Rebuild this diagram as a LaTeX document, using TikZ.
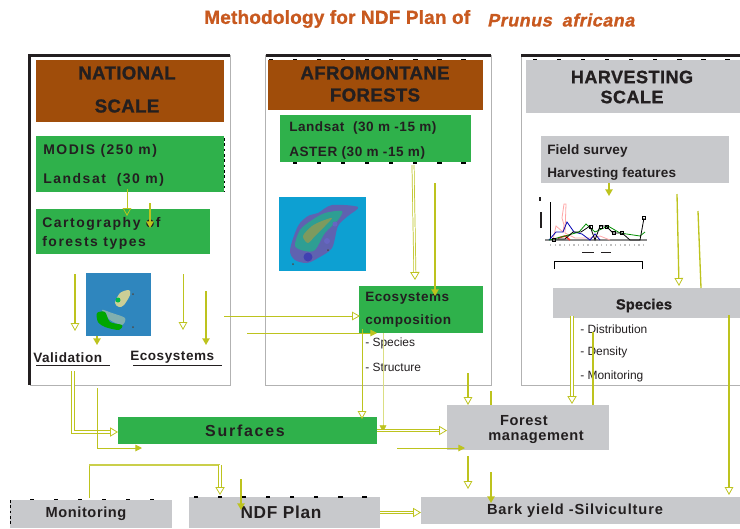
\documentclass[tikz,border=0pt]{standalone}
\usepackage{fontspec}
\setmainfont{Liberation Sans}
\newfontfamily\heavyfont[FakeBold=1.2]{Liberation Sans Bold}
\usetikzlibrary{arrows.meta}
\definecolor{brownbox}{HTML}{A04D0A}
\definecolor{greenbox}{HTML}{2FB14B}
\definecolor{greybox}{HTML}{C8C9CC}
\definecolor{olive}{HTML}{BDC31E}
\definecolor{titlecol}{HTML}{C8591F}
\definecolor{ink}{HTML}{231F20}
\definecolor{mapcyan}{HTML}{0DA0D2}
\definecolor{mapviolet}{HTML}{5F62B0}
\definecolor{mapteal}{HTML}{2E9E93}
\definecolor{mapcore}{HTML}{7D9A5E}
\definecolor{mapblue}{HTML}{2F86BE}
\newcommand{\heavy}[2]{\fontsize{#1}{#1}\selectfont\heavyfont\addfontfeature{LetterSpace=#2}}
\newcommand{\spaced}[2]{\fontsize{#1}{#1}\selectfont\bfseries\addfontfeature{LetterSpace=#2}}
\begin{document}
\begin{tikzpicture}[%
        x = 0.02646cm,
        y = -0.02646cm,
        box/.style = {inner sep=0pt, outer sep=0pt},
        heading/.style = {inner sep=0pt, text=ink, font=\heavy{14}{2}},
        label/.style = {inner sep=0pt, text=ink, yshift=-1.5pt, anchor=west, font=\spaced{10.2}{4}},
        widelabel/.style = {label, font=\spaced{10.5}{11}},
        tightlabel/.style = {label, font=\spaced{10.2}{1}},
        midlabel/.style = {inner sep=0pt, text=ink, yshift=-1.2pt, font=\spaced{11}{4}},
        plain/.style = {inner sep=0pt, text=ink, yshift=-0.6pt, anchor=west, font=\fontsize{9}{11}\selectfont},
        opentip/.style = {color=olive, line width=0.55pt, -{Triangle[open, length=6pt, width=6.5pt, line width=0.6pt]}},
        filltip/.style = {color=olive, line width=1pt, -{Triangle[length=5pt, width=5.5pt]}},
        nearfill/.style = {color=olive, line width=0.7pt, -{Triangle[length=5pt, width=5pt]}},
        notip/.style = {color=olive, line width=1pt},
        twintip/.style = {color=olive, line width=0.7pt, double, double distance=1.1pt, -{Triangle[open, length=6pt, width=7pt, line width=0.6pt]}},
        panelblack/.style = {color=ink, line width=2.4pt},
        panelgrey/.style = {color=black!30, line width=0.75pt},
        ticks/.style = {color=black, line width=1.2pt, dash pattern=on 3.2pt off 14.9pt},
        underline/.style = {color=ink, line width=0.6pt},
        series/.style = {line width=0.6pt}
    ]
      \useasboundingbox (0,0) rectangle (740,528);

      \coordinate (nat1) at (29.7,385); \coordinate (nat2) at (29.7,55.7); \coordinate (nat3) at (230,55.7); \coordinate (nat4) at (230,385);
      \coordinate (afr1) at (265.5,385); \coordinate (afr2) at (265.5,55.7); \coordinate (afr3) at (491,55.7); \coordinate (afr4) at (491,385);
      \coordinate (har1) at (740,385); \coordinate (har2) at (521,385); \coordinate (har3) at (521,55.7); \coordinate (har4) at (740,55.7);
      \draw [panelgrey] (nat2) -- (nat3) -- (nat4) -- (nat1);
      \draw [panelblack] (nat1) -- (nat2) -- (nat3);
      \draw [panelgrey] (afr1) -- (afr2) -- (afr3) -- (afr4) -- cycle;
      \draw [panelblack] (afr2) -- (afr3);
      \draw [panelgrey] (har1) -- (har2) -- (har3);
      \draw [panelblack] (har3) -- (har4);

      \node [heading, font=\heavy{14.3}{1}, text=titlecol, anchor=west] (title) at (204,19) {Methodology for NDF Plan of};
      \node [heading, font=\heavy{13.5}{3}\addfontfeature{FakeSlant=0.2}, text=titlecol, anchor=west] (latin) at (487,20) {Prunus\hspace{0.25em} africana};

      \node [box, fill=brownbox, minimum width=4.974cm, minimum height=1.640cm] (natbox) at (130,91) {};
      \node [box, fill=brownbox, minimum width=5.689cm, minimum height=1.323cm] (afrbox) at (375.5,85) {};
      \node [box, fill=greybox, minimum width=5.662cm, minimum height=1.402cm] (harbox) at (633,86.5) {};
      \node [box, fill=greenbox, minimum width=4.974cm, minimum height=1.482cm] (modisbox) at (130,164) {};
      \node [box, fill=greenbox, minimum width=4.604cm, minimum height=1.191cm] (cartobox) at (123,231.5) {};
      \node [box, fill=greenbox, minimum width=5.054cm, minimum height=1.244cm] (satbox) at (375.5,138.5) {};
      \node [box, fill=greybox, minimum width=4.974cm, minimum height=1.244cm] (fieldbox) at (635,159.5) {};
      \node [box, fill=greenbox, minimum width=3.281cm, minimum height=1.244cm] (compbox) at (421,309.5) {};
      \node [box, fill=greybox, minimum width=4.948cm, minimum height=0.794cm] (specbox) at (646.5,303) {};
      \node [box, fill=greenbox, minimum width=6.853cm, minimum height=0.714cm] (surfbox) at (247.5,430.5) {};
      \node [box, fill=greybox, minimum width=4.286cm, minimum height=1.191cm] (forestbox) at (528,427.5) {};
      \node [box, fill=greybox, minimum width=4.286cm, minimum height=0.741cm] (monbox) at (91,514) {};
      \node [box, fill=greybox, minimum width=5.054cm, minimum height=0.820cm] (ndfbox) at (284.5,512.5) {};
      \node [box, fill=greybox, minimum width=8.441cm, minimum height=0.714cm] (barkbox) at (580.5,510.5) {};

      \draw [ticks] (269,59.3) -- (483,59.3);
      \draw [ticks] (293,162.8) -- (470,162.8);
      \draw [ticks] (533,59.3) -- (740,59.3);
      \draw [ticks] (194,497) -- (380,497);
      \draw [ticks] (30,499.5) -- (172,499.5);
      \draw [color=black, line width=0.7pt, dash pattern=on 2pt off 2pt] (224,138) -- (224,192);
      \draw [color=black, line width=0.7pt, dash pattern=on 2pt off 2pt] (10,500) -- (10,526);

      % right map
      \fill [color=mapcyan] (279,197) rectangle (366,271);
      \fill [color=mapviolet] plot [smooth cycle] coordinates {(290,250) (298,226) (308,216) (318,213) (332,205) (358,207) (348,216) (338,226) (332,248) (318,258) (307,263) (295,260)};
      \fill [color=mapteal] plot [smooth cycle] coordinates {(295,246) (300,230) (312,220) (325,213) (342,211) (338,220) (325,233) (315,250) (305,251)};
      \fill [color=mapcore] plot [smooth cycle] coordinates {(303,236) (312,226) (322,221) (332,218) (325,226) (315,236) (308,243)};
      \fill [color=blue!60!black!75] (308,257) circle [radius=4.5];
      \fill [color=blue!60!black!60] (327,241) circle [radius=3];
      \fill [color=blue!60!black!60] (335,224) circle [radius=2.5];
      \fill [color=black!70] (293,264) circle [radius=1];
      \fill [color=black!70] (328,250) circle [radius=1];
      % left map
      \fill [color=mapblue] (86,273) rectangle (151,336);
      \fill [color=black!25!teal!50] plot [smooth cycle] coordinates {(102,310) (112,313) (125,318) (122,325) (110,320)};
      \fill [color=green!65!black] plot [smooth cycle] coordinates {(97,313) (105,312) (110,322) (122,325) (119,330) (105,327) (98,322)};
      \fill [color=black!25!olive!45] plot [smooth cycle] coordinates {(115,303) (120,293) (129,290) (130,295) (124,305) (119,307)};
      \fill [color=green!45!teal] (118,300) circle [radius=2.5];
      \fill [color=black!70] (133,294) circle [radius=1];
      \fill [color=black!70] (133,327) circle [radius=1];

      % chart
      \draw [color=ink, line width=1pt] (540,197) -- (540,201) (541,212) -- (541,228);
      \draw [color=black, line width=0.4pt] (550,202) -- (550,240);
      \draw [color=black!45, line width=1.4pt] (545,240) -- (647,240);
      \draw [color=red!35, series] (553,240) -- (556,226) -- (563,232) -- (564,225) -- (562,218) -- (564,204) -- (566,204) -- (565,233) -- (575,238) -- (590,238) -- (600,236) -- (610,240);
      \draw [color=red!80, series, line width=1.2pt] (558,238) -- (565,236) -- (570,240);
      \draw [color=blue!70!black, series] (549,240) -- (556,232) -- (563,232) -- (567,222) -- (574,232) -- (582,234) -- (590,240) -- (595,234) -- (600,240);
      \draw [color=green!55!black, series] (549,240) -- (565,236) -- (579,232) -- (586,224) -- (595,232) -- (608,226) -- (620,233) -- (640,236) -- (645,232);
      \draw [color=black, series] (553,239) -- (565,239) -- (573,232) -- (581,232) -- (590,226) -- (595,240) -- (600,226) -- (606,226) -- (613,233) -- (622,233) -- (630,240) -- (640,240) -- (644,218);
      \draw [color=black, fill=none, line width=0.6pt] (552,238) rectangle (555,241) (589,225) rectangle (592,228) (599,225) rectangle (602,228) (605,225) rectangle (608,228) (612,231) rectangle (615,234) (620,231) rectangle (623,234) (642,216) rectangle (645,219);
      \draw [color=ink, line width=1.2pt] (582,252.5) -- (594,252.5) (601,252.5) -- (611,252.5);
      \draw [color=black, line width=0.5pt] (554,269) -- (554,261) -- (642,261) -- (642,269);
      \draw [color=black!25, line width=1.8pt, dash pattern=on 1pt off 2.5pt] (550,245) -- (645,245);

      \node [heading] (natlabel) at (127,73) {NATIONAL};
      \node [heading] (scalelabel) at (127,106) {SCALE};
      \node [heading] (afrlabel) at (375,73) {AFROMONTANE};
      \node [heading] (forlabel) at (375,95) {FORESTS};
      \node [heading, font=\heavy{13.5}{3}] (harlabel) at (632,77) {HARVESTING};
      \node [heading, font=\heavy{13.5}{3}] (harscale) at (632,97) {SCALE};
      \node [widelabel] (modis) at (43,149) {MODIS (250 m)};
      \node [widelabel] (landsat) at (43,178) {Landsat \ (30 m)};
      \node [widelabel] (carto) at (42,222) {Cartography of};
      \node [widelabel] (forests) at (42,241) {forests types};
      \node [label] (sat) at (289,126) {Landsat \ (30 m -15 m)};
      \node [label] (aster) at (289,151) {ASTER (30 m -15 m)};
      \node [tightlabel] (field) at (547,149) {Field survey};
      \node [tightlabel] (features) at (547,172) {Harvesting features};
      \node [label, yshift=1pt] (valid) at (33,357) {Validation};
      \node [label, yshift=1pt] (ecos) at (130,357) {Ecosystems};
      \node [label] (ecocomp) at (365,296) {Ecosystems};
      \node [label] (comp) at (365,319) {composition};
      \node [plain] (species) at (365,343) {- Species};
      \node [plain] (structure) at (365,367) {- Structure};
      \node [midlabel, font=\heavy{11}{1}] (speclabel) at (644,304) {Species};
      \node [plain] (distrib) at (580,328) {- Distribution};
      \node [plain] (density) at (580,352) {- Density};
      \node [plain] (monit) at (580,376) {- Monitoring};
      \node [midlabel, font=\spaced{12}{11}] (surflabel) at (245,429) {Surfaces};
      \node [midlabel] (forestlabel) at (524,419) {Forest};
      \node [midlabel] (mgmtlabel) at (536,436) {management};
      \node [midlabel] (monlabel) at (86,512) {Monitoring};
      \node [midlabel, font=\spaced{13}{4}] (ndflabel) at (281,511) {NDF Plan};
      \node [midlabel, font=\spaced{11}{6}] (barklabel) at (575,509) {Bark yield -Silviculture};

      \draw [underline] (36,365) -- (110,365);
      \draw [underline] (133,365) -- (222,365);

      \coordinate (a1) at (127,189); \coordinate (a2) at (127,216);
      \coordinate (b1) at (150,203); \coordinate (b2) at (150,228);
      \coordinate (c1) at (75,274); \coordinate (c2) at (75,331);
      \coordinate (d1) at (97,336); \coordinate (d2) at (97,345);
      \coordinate (e1) at (183,274); \coordinate (e2) at (183,330);
      \coordinate (f1) at (206,291); \coordinate (f2) at (206,345);
      \coordinate (g1) at (224,316); \coordinate (g2) at (360,316);
      \coordinate (h1) at (247,333); \coordinate (h2) at (377,333);
      \coordinate (i1) at (362,329); \coordinate (i2) at (362,419);
      \coordinate (j1) at (383,333); \coordinate (j2) at (383,432); \coordinate (j3) at (383,428);
      \coordinate (k1) at (413,165); \coordinate (k2) at (415,280);
      \coordinate (l1) at (435,183); \coordinate (l2) at (435,296);
      \coordinate (m1) at (677,194); \coordinate (m2) at (679,286);
      \coordinate (n1) at (698,211); \coordinate (n2) at (701,288);
      \coordinate (o1) at (609,183); \coordinate (o2) at (609,196);
      \coordinate (p1) at (572,316); \coordinate (p2) at (572,404);
      \coordinate (q1) at (593,332);
      \coordinate (r1) at (729,315); \coordinate (r2) at (729,495);
      \coordinate (s1) at (468,373); \coordinate (s2) at (468,405);
      \coordinate (t1) at (491,391);
      \coordinate (u1) at (468,456); \coordinate (u2) at (468,489);
      \coordinate (v1) at (491,472); \coordinate (v2) at (491,503);
      \coordinate (w1) at (397,448); \coordinate (w2) at (465,448);
      \coordinate (y1) at (89,465); \coordinate (y2) at (220,465); \coordinate (y3) at (220,495); \coordinate (y4) at (89,498);
      \coordinate (z1) at (241,479); \coordinate (z2) at (241,510);
      \coordinate (vs1) at (73,371); \coordinate (vs2) at (73,432);
      \coordinate (es1) at (97,388); \coordinate (es2) at (97,448); \coordinate (es3) at (142,448);

      \draw [opentip] (a1) -- (a2);
      \draw [filltip] (b1) -- (b2);
      \draw [opentip, line width=1pt] (c1) -- (c2);
      \draw [filltip] (d1) -- (d2);
      \draw [opentip] (e1) -- (e2);
      \draw [filltip] (f1) -- (f2);
      \draw [opentip] (g1) -- (g2);
      \draw [nearfill] (h1) -- (h2);
      \draw [opentip] (i1) -- (i2);
      \draw [color=olive!55, line width=0.7pt] (j1) -- (j2);
      \draw [nearfill, line width=0.1pt] (j3) -- (j2);
      \draw [twintip, line width=0.55pt, double distance=1pt] (k1) -- (k2);
      \draw [filltip] (l1) -- (l2);
      \draw [opentip, line width=1pt] (m1) -- (m2);
      \draw [notip] (n1) -- (n2);
      \draw [filltip] (o1) -- (o2);
      \draw [twintip] (p1) -- (p2);
      \draw [notip] (q1) -- (q1 |- forestbox.north);
      \draw [opentip, line width=0.8pt] (r1) -- (r2);
      \draw [opentip, line width=1pt] (s1) -- (s2);
      \draw [notip] (t1) -- (t1 |- forestbox.north);
      \draw [opentip, line width=1pt] (u1) -- (u2);
      \draw [filltip] (v1) -- (v2);
      \draw [twintip] (surfbox.east) -- (surfbox.east -| forestbox.west);
      \draw [nearfill] (w1) -- (w2);
      \draw [notip, line width=0.5pt] (y4) -- (y1);
      \draw [notip, color=olive!80, line width=1.2pt] (y1) -- (y2);
      \draw [twintip] (y2) -- (y3);
      \draw [filltip] (z1) -- (z2);
      \draw [twintip] (vs1) -- (vs2) -- (vs2 -| surfbox.west);
      \draw [nearfill] (es1) -- (es2) -- (es3);
      \draw [twintip] (ndfbox.east) -- (ndfbox.east -| barkbox.west);
    \end{tikzpicture}
\end{document}
